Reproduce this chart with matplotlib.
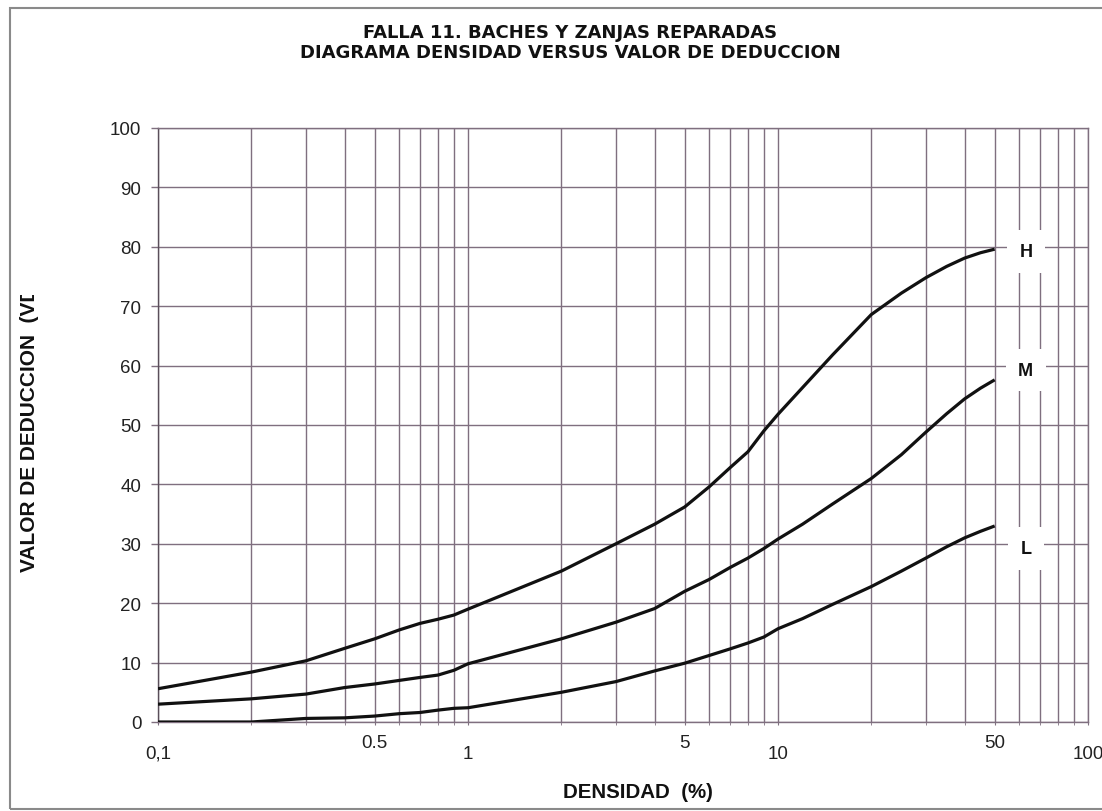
import matplotlib
matplotlib.use("Agg")
import matplotlib.pyplot as plt
from matplotlib.patches import Rectangle
from matplotlib.transforms import Bbox, TransformedBbox
from matplotlib.ticker import FixedLocator, NullFormatter

plt.rcParams['font.family'] = ['Liberation Sans', 'DejaVu Sans']

# densidad (%) y valores de deduccion
densidad = [0.1, 0.2, 0.3, 0.4, 0.5, 0.6, 0.7, 0.8, 0.9, 1, 2, 3, 4, 5, 6, 7, 8, 9, 10,
            12, 15, 20, 25, 30, 35, 40, 45, 50]
vd_h = [5.6, 8.4, 10.3, 12.4, 14.0, 15.5, 16.6, 17.3, 18.0, 19.0, 25.4, 30.0, 33.3, 36.2, 39.6,
        42.8, 45.5, 49.0, 51.8, 56.3, 61.8, 68.6, 72.2, 74.8, 76.7, 78.1, 79.0, 79.6]
vd_m = [3.0, 3.9, 4.7, 5.8, 6.4, 7.0, 7.5, 7.9, 8.7, 9.8, 14.0, 16.8, 19.1, 22.0, 24.0,
        26.0, 27.6, 29.2, 30.8, 33.3, 36.7, 41.0, 45.0, 48.8, 51.9, 54.4, 56.2, 57.6]
vd_l = [0.0, 0.0, 0.6, 0.7, 1.0, 1.4, 1.6, 2.0, 2.3, 2.4, 5.0, 6.8, 8.6, 9.9, 11.2,
        12.3, 13.3, 14.3, 15.7, 17.4, 19.8, 22.8, 25.4, 27.6, 29.5, 31.0, 32.1, 33.0]

niveles = ['H', 'M', 'L']
pos_etiquetas = [79.2, 59.2, 29.2]
x_etiqueta = 63

xticks = [0.1, 0.5, 1, 5, 10, 50, 100]
xlabels = ['0,1', '0.5', '1', '5', '10', '50', '100']
yticks = list(range(0, 101, 10))

W, H = 1102, 812
grid_col = '#7f6f7f'

fig = plt.figure(figsize=(W / 100, H / 100), dpi=100)
ax = fig.add_axes([158 / W, 1 - 723 / H, (1088 - 158) / W, (723 - 129) / H])

for vals in (vd_h, vd_m, vd_l):
    ax.plot(densidad, vals, color='#111111', lw=2.3, solid_capstyle='butt', zorder=3)

ax.set_xscale('log')
ax.set_xlim(0.1, 100)
ax.set_ylim(0, 100)

minors = [m * 10 ** e for e in (-1, 0, 1) for m in range(2, 10)]
ax.xaxis.set_minor_locator(FixedLocator(minors))
ax.xaxis.set_minor_formatter(NullFormatter())
ax.set_xticks(xticks)
ax.set_xticklabels(xlabels)
ax.set_yticks(yticks)

ax.grid(True, which='both', axis='x', color=grid_col, lw=1.0)
ax.grid(True, which='major', axis='y', color=grid_col, lw=1.0)
ax.tick_params(axis='x', which='both', direction='out', length=2.5, color=grid_col,
               labelsize=13.5, labelcolor='#222222')
ax.tick_params(axis='y', direction='out', length=5, width=1.0, color=grid_col,
               labelsize=13.5, labelcolor='#222222', pad=7)
for sp in ax.spines.values():
    sp.set_color(grid_col)
    sp.set_linewidth(1.0)
ax.spines['left'].set_color('#5a4e5a')

# etiquetas alternadas en el eje x
for i, t in enumerate(ax.xaxis.get_major_ticks()):
    t.set_pad(6 if i % 2 else 14)

for nivel, yv in zip(niveles, pos_etiquetas):
    ax.text(x_etiqueta, yv, nivel, ha='center', va='center', fontsize=13,
            fontweight='bold', color='#111111', zorder=4,
            bbox=dict(boxstyle='square,pad=0.7', fc='white', ec='none'))

fig.text(570 / W, 1 - 43 / H,
         'FALLA 11. BACHES Y ZANJAS REPARADAS\nDIAGRAMA DENSIDAD VERSUS VALOR DE DEDUCCION',
         ha='center', va='center', fontsize=13, fontweight='bold', linespacing=1.2,
         color='#111111', family=['DejaVu Sans'])

fig.text(638 / W, 1 - 793 / H, 'DENSIDAD  (%)', ha='center', va='center',
         fontsize=14.8, fontweight='bold', color='#111111')

# rotulo del eje y, cortado en la parte superior
ylab = fig.text(30 / W, 1 - 572 / H, 'VALOR DE DEDUCCION  (VD)', rotation=90,
                ha='center', va='bottom', fontsize=15, fontweight='bold', color='#111111')
ylab.set_clip_box(TransformedBbox(Bbox([[0, 0], [0.2, 1 - 296 / H]]), fig.transFigure))
ylab.set_clip_on(True)

fig.patches.append(Rectangle((10 / W, 2 / H), 1.2, (810 - 9) / H, transform=fig.transFigure,
                             fill=False, ec='#8a8a8a', lw=1.5))

fig.savefig('out.png', dpi=100, facecolor='white')
